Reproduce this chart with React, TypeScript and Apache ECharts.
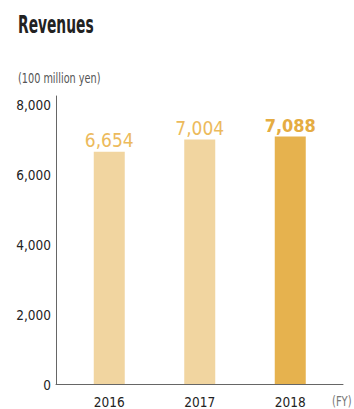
import React, { useEffect, useRef } from "react";
import * as echarts from "echarts";

const categories = ["2016", "2017", "2018"];
const revenues = [6654, 7004, 7088];
const yTicks = [0, 2000, 4000, 6000, 8000];

const FONT = "'DejaVu Sans Condensed', 'DejaVu Sans', sans-serif";

export default function App() {
  const ref = useRef<HTMLDivElement>(null);
  useEffect(() => {
    if (!ref.current) return;
    const chart = echarts.init(ref.current, null, { renderer: "svg" });
    const barColors = ["#F1D5A0", "#F1D5A0", "#E6B24E"];
    const labelColors = ["#ECBA5C", "#ECBA5C", "#E5AC42"];
    chart.setOption({
      animation: false,
      graphic: [
        {
          type: "text",
          x: 18,
          y: 25,
          scaleX: 0.64,
          style: {
            text: "Revenues",
            fill: "#222",
            fontSize: 24,
            fontWeight: "bold",
            fontFamily: FONT,
            align: "left",
            verticalAlign: "middle",
          },
        },
        {
          type: "text",
          x: 18,
          y: 78.5,
          scaleX: 0.8,
          style: {
            text: "(100 million yen)",
            fill: "#555",
            fontSize: 13.5,
            fontFamily: FONT,
            align: "left",
            verticalAlign: "middle",
          },
        },
        {
          type: "text",
          x: 332,
          y: 401.5,
          scaleX: 0.82,
          style: {
            text: "(FY)",
            fill: "#777",
            fontSize: 13.5,
            fontFamily: FONT,
            align: "left",
            verticalAlign: "middle",
          },
        },
      ],
      grid: [
        { left: 64, right: 18.5, top: 96, bottom: 24.5 },
        { left: 56, right: 11, top: 96, bottom: 24.5 },
      ],
      xAxis: [
        {
          type: "category",
          gridIndex: 0,
          data: categories,
          axisLine: { show: false },
          axisTick: { show: false },
          axisLabel: { fontFamily: FONT, fontSize: 13.5, color: "#222", margin: 11 },
        },
        {
          type: "value",
          gridIndex: 1,
          min: 0,
          max: 1,
          axisLine: { show: true, lineStyle: { color: "#666", width: 1 } },
          axisTick: { show: false },
          axisLabel: { show: false },
          splitLine: { show: false },
        },
      ],
      yAxis: [
        {
          type: "value",
          gridIndex: 0,
          min: 0,
          max: 8250,
          show: false,
          splitLine: { show: false },
        },
        {
          type: "value",
          gridIndex: 1,
          min: 0,
          max: 8250,
          interval: 2000,
          axisLine: { show: true, lineStyle: { color: "#666", width: 1 } },
          axisTick: { show: false },
          splitLine: { show: false },
          axisLabel: {
            fontFamily: FONT,
            fontSize: 13.5,
            color: "#222",
            margin: 5,
            showMaxLabel: false,
            formatter: (v: number) => (yTicks.includes(v) ? v.toLocaleString("en-US") : ""),
          },
        },
      ],
      series: [
        {
          type: "bar",
          xAxisIndex: 0,
          yAxisIndex: 0,
          barWidth: 31,
          data: revenues.map((v, i) => ({
            value: v,
            itemStyle: { color: barColors[i] },
            label: {
              show: true,
              position: "top",
              distance: 2,
              fontFamily: FONT,
              fontSize: i === 2 ? 18 : 19,
              fontWeight: i === 2 ? "bold" : "normal",
              color: labelColors[i],
              formatter: (p: any) => Number(p.value).toLocaleString("en-US"),
            },
          })),
        },
      ],
    });
    return () => chart.dispose();
  }, []);
  return <div ref={ref} style={{ width: 354, height: 409, position: "absolute", left: 0, top: 0 }} />;
}
